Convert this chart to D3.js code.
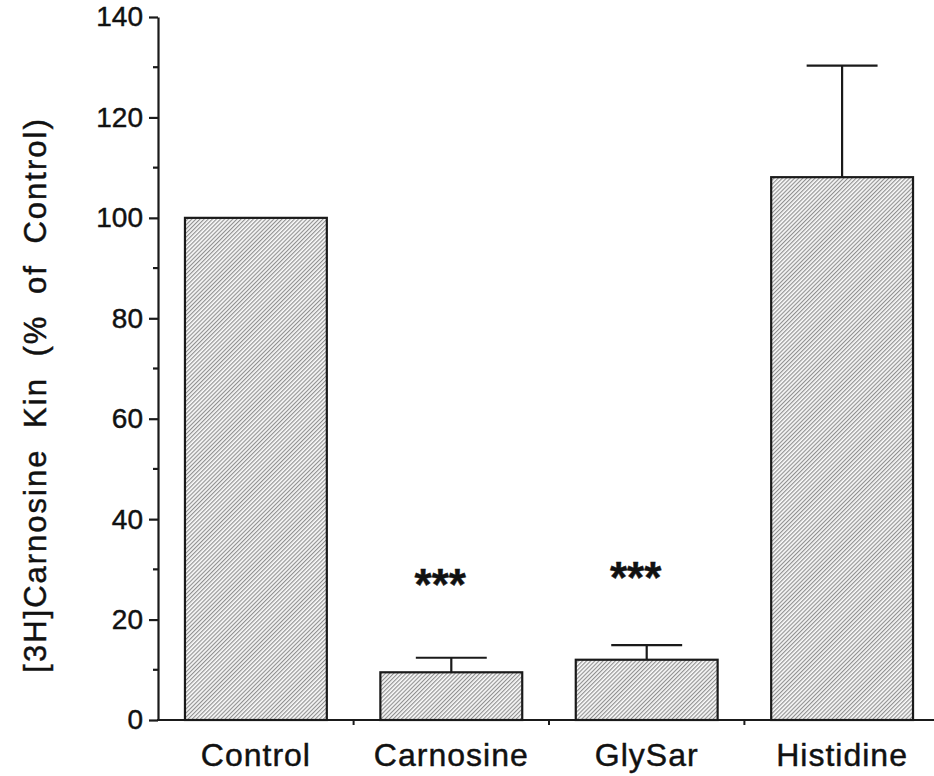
<!DOCTYPE html>
<html>
<head>
<meta charset="utf-8">
<script src="https://cdn.jsdelivr.net/npm/d3@7"></script>
<style>
  html, body { margin: 0; padding: 0; background: #fff; }
  svg { display: block; }
  text { font-family: "Liberation Sans", Arial, Helvetica, sans-serif; fill: #111; stroke: #111; stroke-width: 0.45; }
</style>
</head>
<body>
<svg id="chart" width="934" height="776"></svg>
<script>
// Carnosine uptake in the presence of competing substrates
const categories = ["Control", "Carnosine", "GlySar", "Histidine"];
const kinValues = [100, 9.5, 12.0, 108.1];      // % of control
const kinErrors = [0, 2.9, 2.9, 22.2];          // SEM (upper bar only)
const sigMarks = ["", "***", "***", ""];
const sigLevels = [0, 23.8, 25.2, 0];           // baseline height of the significance marks
const yTicks = [0, 20, 40, 60, 80, 100, 120, 140];
const yMinorTicks = [10, 30, 50, 70, 90, 110, 130];
const yLabel = "[3H]Carnosine Kin (% of Control)";

const svg = d3.select("#chart");
const axisColor = "#1a1a1a";

const y = d3.scaleLinear().domain([0, 140]).range([720, 17]);
const x = d3.scaleBand()
  .domain(categories)
  .range([158, 940])
  .paddingInner(0.274)
  .paddingOuter(0.138);

// Diagonal hatch fill for the bars
const defs = svg.append("defs");
const pat = defs.append("pattern")
  .attr("id", "hatch")
  .attr("patternUnits", "userSpaceOnUse")
  .attr("width", 2.9)
  .attr("height", 10)
  .attr("patternTransform", "rotate(45)");
pat.append("rect").attr("width", 2.9).attr("height", 10).attr("fill", "#fafafa");
pat.append("line")
  .attr("x1", 0.6).attr("y1", 0).attr("x2", 0.6).attr("y2", 10)
  .attr("stroke", "#8a8a8a").attr("stroke-width", 1.1);

// Error bars (drawn first so the bar outline sits on top)
const cap = x.bandwidth() / 2;
const errG = svg.append("g").attr("stroke", axisColor).attr("stroke-width", 2.2).attr("fill", "none");
categories.forEach((c, i) => {
  if (kinErrors[i] <= 0) return;
  const cx = x(c) + x.bandwidth() / 2;
  errG.append("line")
    .attr("x1", cx).attr("x2", cx)
    .attr("y1", y(kinValues[i])).attr("y2", y(kinValues[i] + kinErrors[i]));
  errG.append("line")
    .attr("x1", cx - cap / 2).attr("x2", cx + cap / 2)
    .attr("y1", y(kinValues[i] + kinErrors[i])).attr("y2", y(kinValues[i] + kinErrors[i]));
});

// Bars
svg.append("g")
  .selectAll("rect")
  .data(categories)
  .join("rect")
  .attr("x", d => x(d))
  .attr("y", (d, i) => y(kinValues[i]))
  .attr("width", x.bandwidth())
  .attr("height", (d, i) => y(0) - y(kinValues[i]))
  .attr("fill", "url(#hatch)")
  .attr("stroke", axisColor)
  .attr("stroke-width", 2.2);

// Significance marks
svg.append("g")
  .selectAll("text")
  .data(categories)
  .join("text")
  .attr("x", d => x(d) + x.bandwidth() / 2 - 11)
  .attr("y", (d, i) => y(sigLevels[i]))
  .attr("text-anchor", "middle")
  .attr("font-size", 44)
  .attr("font-weight", "bold")
  .text((d, i) => sigMarks[i]);

// Y axis
const yAxis = d3.axisLeft(y)
  .tickValues(yTicks)
  .tickSize(9)
  .tickSizeOuter(0)
  .tickPadding(6)
  .tickFormat(d3.format("d"));
const yg = svg.append("g").attr("transform", "translate(158,0)").call(yAxis);
yg.select(".domain").attr("stroke", axisColor).attr("stroke-width", 2.2);
yg.selectAll(".tick line").attr("stroke", axisColor).attr("stroke-width", 2.2);
yg.selectAll(".tick text").attr("font-size", 28).attr("fill", "#111");
yg.selectAll(".minor")
  .data(yMinorTicks)
  .join("line")
  .attr("class", "minor")
  .attr("x1", -5).attr("x2", 0)
  .attr("y1", d => y(d)).attr("y2", d => y(d))
  .attr("stroke", axisColor).attr("stroke-width", 2.2);

// X axis: baseline with ticks between categories
const step = x.step();
const xg = svg.append("g");
xg.append("line")
  .attr("x1", 157).attr("x2", 940)
  .attr("y1", y(0)).attr("y2", y(0))
  .attr("stroke", axisColor).attr("stroke-width", 2.2);
xg.selectAll(".sep")
  .data(categories.slice(1))
  .join("line")
  .attr("class", "sep")
  .attr("x1", d => x(d) - step * x.paddingInner() / 2)
  .attr("x2", d => x(d) - step * x.paddingInner() / 2)
  .attr("y1", y(0)).attr("y2", y(0) + 5)
  .attr("stroke", axisColor).attr("stroke-width", 2);
xg.selectAll(".cat")
  .data(categories)
  .join("text")
  .attr("class", "cat")
  .attr("x", d => x(d) + x.bandwidth() / 2)
  .attr("y", 766)
  .attr("text-anchor", "middle")
  .attr("font-size", 32)
  .attr("letter-spacing", 1)
  .text(d => d);

// Y axis title
svg.append("text")
  .attr("transform", "translate(46,395) rotate(-90)")
  .attr("text-anchor", "middle")
  .attr("font-size", 31)
  .attr("letter-spacing", 2)
  .attr("word-spacing", 10)
  .text(yLabel);
</script>
</body>
</html>
